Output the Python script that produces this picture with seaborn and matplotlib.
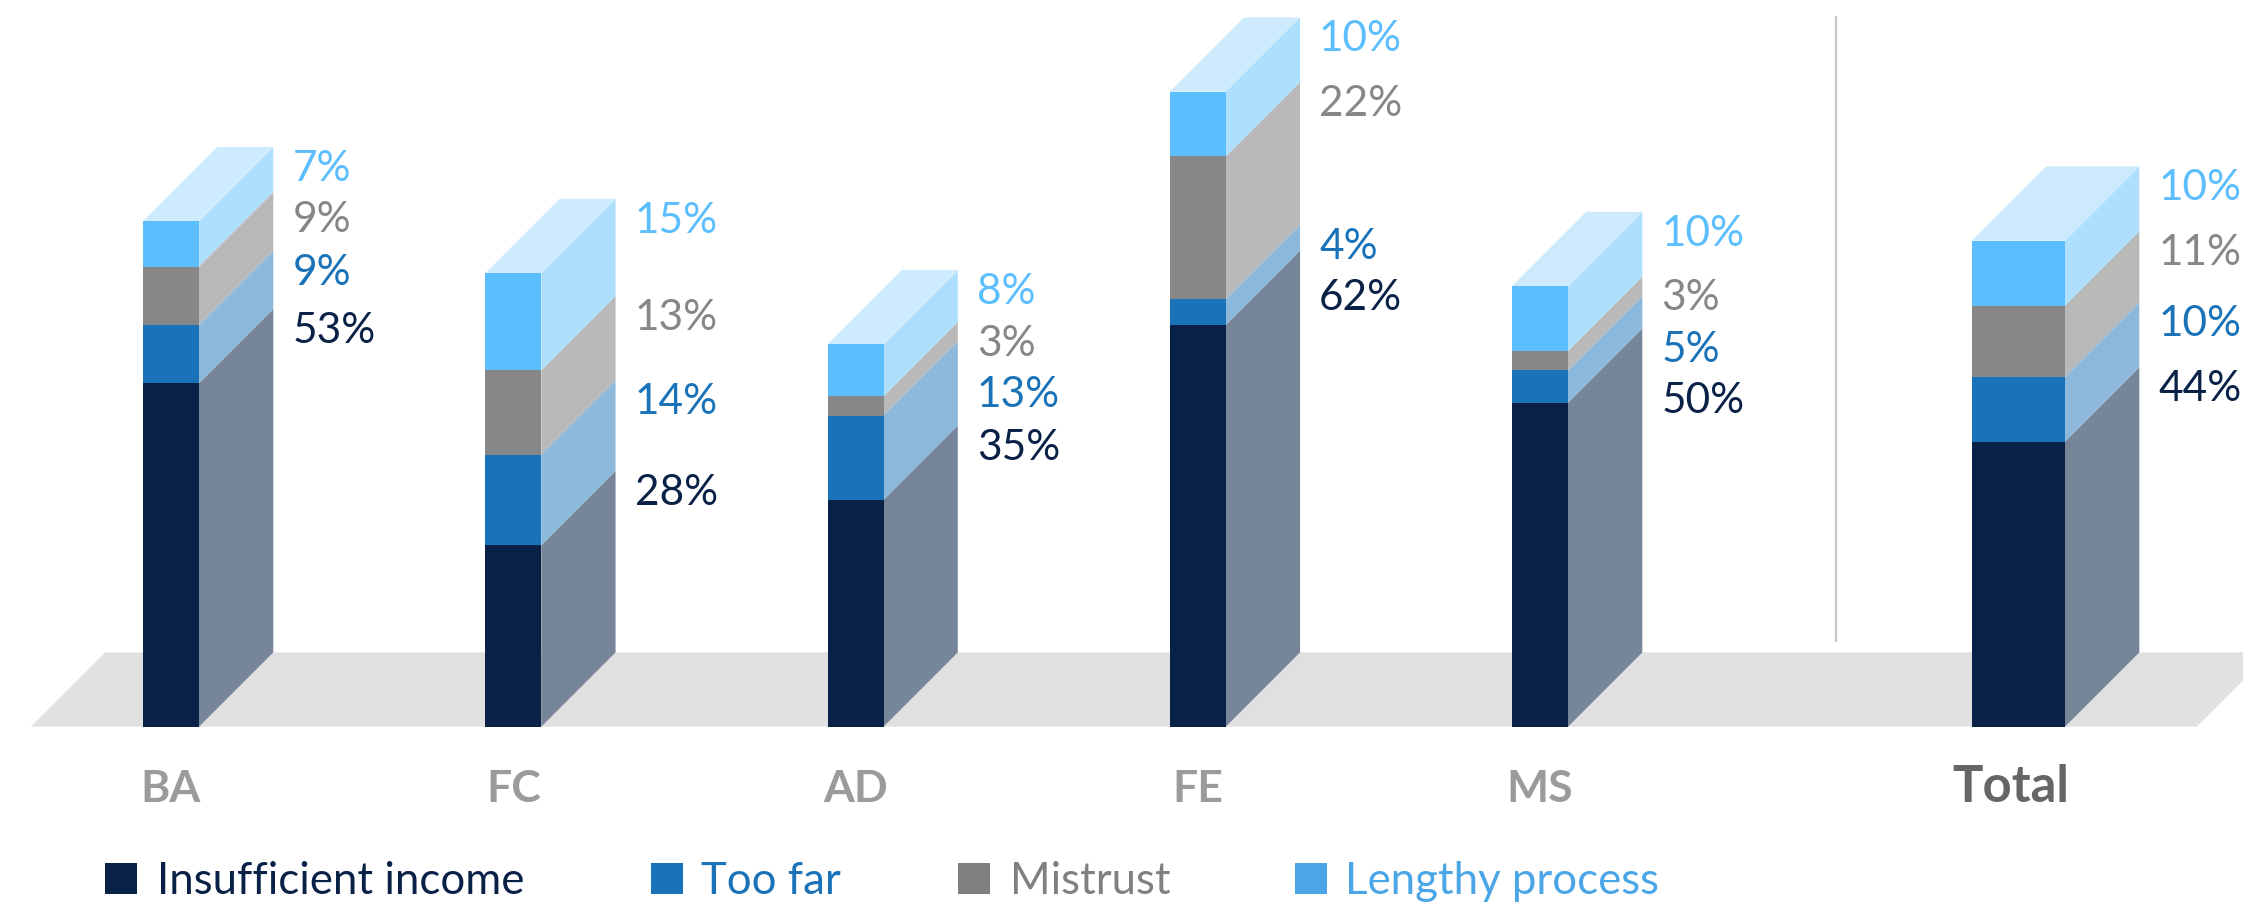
import matplotlib
matplotlib.use("Agg")
import matplotlib.pyplot as plt
import seaborn as sns
import pandas as pd
from matplotlib.patches import Polygon, Rectangle

# ---------------- data ----------------
categories = ["BA", "FC", "AD", "FE", "MS", "Total"]
insufficient_income = [53, 28, 35, 62, 50, 44]
too_far = [9, 14, 13, 4, 5, 10]
mistrust = [9, 13, 3, 22, 3, 11]
lengthy_process = [7, 15, 8, 10, 10, 10]
series_names = ["Insufficient income", "Too far", "Mistrust", "Lengthy process"]

# ---------------- styles ----------------
front_colors = ["#0a2147", "#1a73b8", "#878787", "#5cbefe"]
side_colors = ["#778599", "#8cb8dc", "#b9b9b9", "#aee0fe"]
top_color = "#cdebfd"
label_colors = ["#0a2147", "#1a73b8", "#878787", "#5cbefe"]
legend_colors = ["#0a2147", "#1a73b8", "#808080", "#4aa6e6"]

sns.set_theme(style="white")
plt.rcParams["font.family"] = ["Lato", "DejaVu Sans"]

df = pd.DataFrame({"category": categories,
                   series_names[0]: insufficient_income,
                   series_names[1]: too_far,
                   series_names[2]: mistrust,
                   series_names[3]: lengthy_process})

W, H, DPI = 2243, 907, 100
fig = plt.figure(figsize=(W / DPI, H / DPI), dpi=DPI)
ax = fig.add_axes([0, 0, 1, 1])
ax.axis("off")

# layout mapping (pixel -> data)
X0, UNIT, PXPCT, BASE = 171.0, 342.25, 6.48, 726.7
def ux(px):
    return (px - X0) / UNIT
def py(px):
    return (BASE - px) / PXPCT

ax.set_xlim(ux(0), ux(W))
ax.set_ylim(py(H), py(0))

DX = 74.3 / UNIT
DY = 74.3 / PXPCT
x_centers = [0, 1, 2, 3, 4, ux(2018.5)]
widths = [56 / UNIT] * 5 + [93 / UNIT]

# floor
fl, fr = ux(31), ux(2196.7)
ax.add_patch(Polygon([(fl, 0), (fr, 0), (fr + DX, DY), (fl + DX, DY)],
                     closed=True, facecolor="#e0e0e0", edgecolor="none", zorder=0))

# separator
ax.plot([ux(1836), ux(1836)], [py(640.7), py(16.7)], color="#c6c6c6", lw=1.6, zorder=1)

GAP = 51.5 / PXPCT
for i, row in df.iterrows():
    xc, w = x_centers[i], widths[i]
    xl, xr = xc - w / 2, xc + w / 2
    bottom = 0
    tops = []
    for k, s in enumerate(series_names):
        v = row[s]
        ax.bar(xc, v, width=w, bottom=bottom, color=front_colors[k], linewidth=0, zorder=3)
        ax.add_patch(Polygon([(xr, bottom), (xr + DX, bottom + DY),
                              (xr + DX, bottom + v + DY), (xr, bottom + v)],
                             closed=True, facecolor=side_colors[k], edgecolor="none", zorder=2))
        bottom += v
        tops.append(bottom)
    T = bottom
    ax.add_patch(Polygon([(xl, T), (xr, T), (xr + DX, T + DY), (xl + DX, T + DY)],
                         closed=True, facecolor=top_color, edgecolor="none", zorder=2))
    # value labels, top segment first, avoiding overlaps
    prev = None
    lx = xr + DX + 19 / UNIT
    for k in range(3, -1, -1):
        y = tops[k] + DY - 0.45
        if prev is not None:
            y = min(y, prev - GAP)
        prev = y
        ax.text(lx, y - 31 / PXPCT, f"{row[series_names[k]]}%", ha="left", va="baseline",
                fontsize=30.5, color=label_colors[k], zorder=5)
    # category label
    if row["category"] == "Total":
        ax.text(xc - 8 / UNIT, py(801.7), row["category"], ha="center", va="baseline",
                fontsize=36.5, fontweight="bold", color="#666666")
    else:
        ax.text(xc, py(801.7), row["category"], ha="center", va="baseline",
                fontsize=32, fontweight="bold", color="#9b9b9b")

# legend
sq_x = [105, 651, 958, 1295]
tx_x = [157, 701, 1010, 1345]
for k, s in enumerate(series_names):
    ax.add_patch(Rectangle((ux(sq_x[k]), py(894.3)), 31.7 / UNIT, 31 / PXPCT,
                           facecolor=legend_colors[k], edgecolor="none"))
    ax.text(ux(tx_x[k]), py(894), s, ha="left", va="baseline", fontsize=31.5,
            fontweight="normal", color=legend_colors[k])

fig.savefig("out.png", dpi=DPI)
